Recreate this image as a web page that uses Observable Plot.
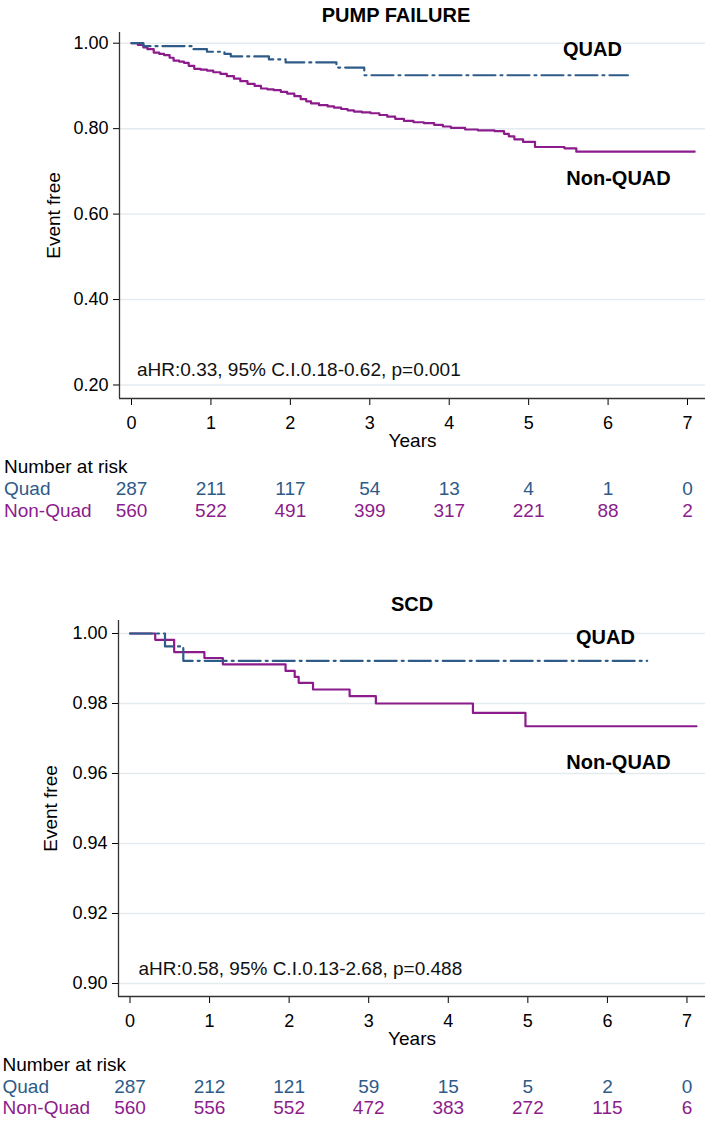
<!DOCTYPE html>
<html><head><meta charset="utf-8">
<script src="https://cdn.jsdelivr.net/npm/d3@7"></script>
<script src="https://cdn.jsdelivr.net/npm/@observablehq/plot@0.6"></script>
<style>
body{margin:0;background:#fff;width:709px;height:1123px;position:relative;overflow:hidden;font-family:"Liberation Sans",Arial,sans-serif;}
.title{position:absolute;font-weight:bold;font-size:20px;line-height:30px;height:30px;text-align:center;color:#000;}
.chart{position:absolute;left:0;}
</style></head><body>
<div class="title" style="top:0;left:296px;width:200px">PUMP FAILURE</div>
<div class="chart" id="c1" style="top:30px"></div>
<div class="title" style="top:589px;left:312px;width:200px">SCD</div>
<div class="chart" id="c2" style="top:618px"></div>
<script>
// ---------- shared ----------
const years = [0, 1, 2, 3, 4, 5, 6, 7];

// ---------- PUMP FAILURE ----------
const pfQuadTime = [0, 0.15, 0.78, 0.95, 1.17, 1.25, 1.73, 1.94, 2.58, 2.93, 6.25];
const pfQuadSurv = [1.000, 0.993, 0.986, 0.980, 0.975, 0.969, 0.962, 0.955, 0.943, 0.925, 0.925];
const pfNonTime = [0, 0.08, 0.15, 0.2, 0.28, 0.35, 0.41, 0.48, 0.53, 0.6, 0.66, 0.72, 0.79, 0.87, 0.95, 1.03, 1.12, 1.2, 1.29, 1.37, 1.46, 1.55, 1.63, 1.71, 1.79, 1.88, 1.96, 2.05, 2.13, 2.2, 2.26, 2.36, 2.47, 2.55, 2.64, 2.72, 2.8, 2.9, 3.01, 3.12, 3.22, 3.32, 3.43, 3.55, 3.68, 3.81, 3.92, 4.02, 4.2, 4.36, 4.57, 4.69, 4.75, 4.82, 4.93, 5.08, 5.45, 5.6, 7.09];
const pfNonSurv = [1.000, 0.996, 0.990, 0.986, 0.978, 0.975, 0.972, 0.966, 0.959, 0.957, 0.954, 0.947, 0.940, 0.938, 0.936, 0.932, 0.928, 0.923, 0.917, 0.911, 0.905, 0.900, 0.894, 0.892, 0.890, 0.886, 0.882, 0.876, 0.869, 0.864, 0.859, 0.855, 0.852, 0.849, 0.846, 0.843, 0.840, 0.838, 0.836, 0.832, 0.828, 0.823, 0.818, 0.815, 0.813, 0.809, 0.805, 0.802, 0.798, 0.796, 0.794, 0.788, 0.782, 0.775, 0.769, 0.757, 0.754, 0.746, 0.746];
const pfQuadRisk = [287, 211, 117, 54, 13, 4, 1, 0];
const pfNonRisk = [560, 522, 491, 399, 317, 221, 88, 2];
const pfTicks = [0.20, 0.40, 0.60, 0.80, 1.00];
const pfStat = "aHR:0.33, 95% C.I.0.18-0.62, p=0.001";

// ---------- SCD ----------
const scdQuadTime = [0, 0.44, 0.67, 6.5];
const scdQuadSurv = [1.000, 0.9963, 0.9922, 0.9922];
const scdNonTime = [0, 0.317, 0.555, 0.935, 1.167, 1.955, 2.07, 2.12, 2.30, 2.76, 3.09, 4.31, 4.97, 7.12];
const scdNonSurv = [1.000, 0.9982, 0.9947, 0.9930, 0.9912, 0.9893, 0.9876, 0.9859, 0.9840, 0.9821, 0.9800, 0.9773, 0.9735, 0.9735];
const scdQuadRisk = [287, 212, 121, 59, 15, 5, 2, 0];
const scdNonRisk = [560, 556, 552, 472, 383, 272, 115, 6];
const scdTicks = [0.90, 0.92, 0.94, 0.96, 0.98, 1.00];
const scdStat = "aHR:0.58, 95% C.I.0.13-2.68, p=0.488";

const BLUE = "#2e5b88";
const PURPLE = "#8c1c8c";
const GRID = "#e3ebef";
const AXIS = "#333";
const FONT = '"Liberation Sans", Arial, sans-serif';

function series(times, survs) { return times.map((t, i) => ({t, s: survs[i]})); }

function makeChart(cfg) {
  const quad = series(cfg.quadTime, cfg.quadSurv);
  const non = series(cfg.nonTime, cfg.nonSurv);
  const risk = years.map((y, i) => ({year: y, quad: cfg.quadRisk[i], non: cfg.nonRisk[i]}));
  const L = cfg.lay;
  const T = {lineAnchor: "middle", fontSize: 19};
  return Plot.plot({
    width: 709,
    height: cfg.height,
    marginLeft: cfg.marginLeft,
    marginRight: 4,
    marginTop: 2,
    marginBottom: cfg.marginBottom,
    style: {fontFamily: FONT, fontSize: "18px", color: "#000", background: "transparent", overflow: "visible"},
    x: {domain: cfg.xDom, ticks: years, tickFormat: d => String(d), tickSize: 7, tickPadding: 10.5, label: null},
    y: {domain: cfg.yDom, ticks: cfg.yTicks, tickFormat: d3.format(".2f"), tickSize: 6, tickPadding: 5, label: null},
    marks: [
      Plot.ruleY(cfg.yTicks, {stroke: GRID, strokeWidth: 1.5}),
      Plot.line(non, {x: "t", y: "s", curve: "step-after", stroke: PURPLE, strokeWidth: 2.2}),
      Plot.line(quad, {x: "t", y: "s", curve: "step-after", stroke: BLUE, strokeWidth: 2.2, strokeDasharray: "22,5,2,5"}),
      Plot.ruleX([cfg.xDom[0]], {stroke: AXIS, strokeWidth: 1.3}),
      Plot.ruleY([cfg.yDom[0]], {stroke: AXIS, strokeWidth: 1.3}),
      Plot.text([cfg.stat], {...T, frameAnchor: "bottom-left", dx: L.statDx, dy: L.statDy, textAnchor: "start", fill: "#111"}),
      Plot.text(["QUAD"], {...T, frameAnchor: "top-left", dx: L.quadDx, dy: L.quadDy, textAnchor: "middle", fontSize: 20, fontWeight: "bold", fill: "#000"}),
      Plot.text(["Non-QUAD"], {...T, frameAnchor: "top-left", dx: L.nonDx, dy: L.nonDy, textAnchor: "middle", fontSize: 20, fontWeight: "bold", fill: "#000"}),
      Plot.text(["Event free"], {...T, frameAnchor: "left", dx: L.evDx, rotate: -90, textAnchor: "middle", fill: "#000"}),
      Plot.text(["Years"], {...T, frameAnchor: "bottom", dy: L.yearsDy, textAnchor: "middle", fill: "#000"}),
      Plot.text(["Number at risk"], {...T, frameAnchor: "bottom-left", dx: L.tabDx, dy: L.row0, textAnchor: "start", fill: "#000"}),
      Plot.text(["Quad"], {...T, frameAnchor: "bottom-left", dx: L.tabDx, dy: L.row1, textAnchor: "start", fill: BLUE}),
      Plot.text(["Non-Quad"], {...T, frameAnchor: "bottom-left", dx: L.tabDx, dy: L.row2, textAnchor: "start", fill: PURPLE}),
      Plot.text(risk, {...T, x: "year", text: d => String(d.quad), frameAnchor: "bottom", dy: L.row1, textAnchor: "middle", fill: BLUE}),
      Plot.text(risk, {...T, x: "year", text: d => String(d.non), frameAnchor: "bottom", dy: L.row2, textAnchor: "middle", fill: PURPLE})
    ]
  });
}

document.getElementById("c1").append(makeChart({
  quadTime: pfQuadTime, quadSurv: pfQuadSurv, nonTime: pfNonTime, nonSurv: pfNonSurv,
  quadRisk: pfQuadRisk, nonRisk: pfNonRisk, yTicks: pfTicks, stat: pfStat,
  height: 492, marginLeft: 119, marginBottom: 124,
  xDom: [-0.1511, 7.2265], yDom: [0.1684, 1.02504],
  lay: {statDx: 17.5, statDy: -29, quadDx: 473, quadDy: 16.7, nonDx: 499, nonDy: 146.3, evDx: -66, yearsDy: 42, tabDx: -115.5, row0: 68.7, row1: 90.3, row2: 112}
}));

document.getElementById("c2").append(makeChart({
  quadTime: scdQuadTime, quadSurv: scdQuadSurv, nonTime: scdNonTime, nonSurv: scdNonSurv,
  quadRisk: scdQuadRisk, nonRisk: scdNonRisk, yTicks: scdTicks, stat: scdStat,
  height: 505, marginLeft: 118, marginBottom: 127,
  xDom: [-0.1445, 7.2327], yDom: [0.896286, 1.003714],
  lay: {statDx: 20, statDy: -28, quadDx: 487, quadDy: 17, nonDx: 500, nonDy: 141.7, evDx: -68, yearsDy: 42, tabDx: -116, row0: 68, row1: 90, row2: 111}
}));
</script>
</body></html>
